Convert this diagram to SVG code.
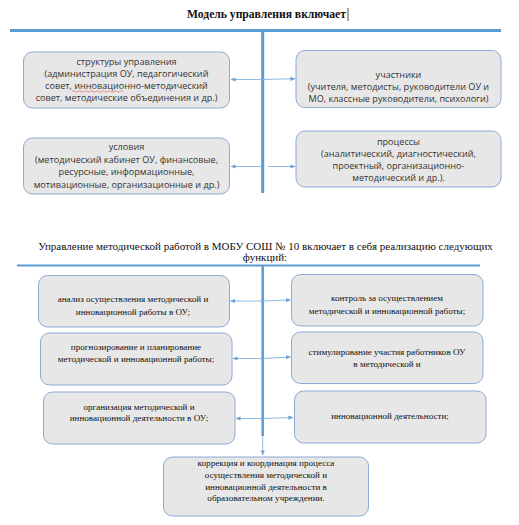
<svg xmlns="http://www.w3.org/2000/svg" width="519" height="525" viewBox="0 0 519 525">
<defs>
<marker id="ah" viewBox="0 0 6 6" refX="5.5" refY="3" markerWidth="5" markerHeight="5" orient="auto" markerUnits="userSpaceOnUse">
<path d="M0,0.5 L6,3 L0,5.5 Z" fill="#6fa3d8"/>
</marker>
</defs>
<style>
.box{fill:#e7e7e7;stroke:#8eaad6;stroke-width:1}
.main{stroke:#5b9bd5;fill:none}
.conn{stroke:#8dbbe6;stroke-width:1;fill:none;marker-end:url(#ah)}
.s{font-family:"Open Sans","Liberation Sans",sans-serif;font-size:9.1px;fill:#333;text-anchor:middle}
.t{font-family:"Liberation Serif","Times New Roman",serif;font-size:9.1px;fill:#111;text-anchor:middle}
.h{font-family:"Liberation Serif","Times New Roman",serif;fill:#111;text-anchor:middle}
</style>
<rect width="519" height="525" fill="#ffffff"/>
<text class="h" x="266.5" y="18" font-size="11.6" font-weight="bold">Модель управления включает</text>
<line x1="348" y1="8" x2="348" y2="21" stroke="#222" stroke-width="0.8"/>
<text class="h" x="265.5" y="250" font-size="11">Управление методической работой в МОБУ СОШ № 10 включает в себя реализацию следующих</text>
<text class="h" x="265" y="261" font-size="11">функций:</text>
<g id="connectors">
<line class="main" x1="10" y1="30.5" x2="501" y2="30.5" stroke-width="3"/>
<line class="main" x1="262.7" y1="30" x2="262.7" y2="193" stroke-width="3"/>
<line class="main" x1="17" y1="265.5" x2="480" y2="265.5" stroke-width="2"/>
<line class="main" x1="262.7" y1="265" x2="262.7" y2="436" stroke-width="2.5"/>
<line class="conn" x1="262" y1="79.5" x2="231" y2="79.5"/>
<line class="conn" x1="263" y1="79.5" x2="295" y2="78.7"/>
<line class="conn" x1="261" y1="166.5" x2="231" y2="166.5"/>
<line class="conn" x1="268" y1="166.5" x2="295" y2="166.5"/>
<line class="conn" x1="262" y1="301" x2="230.5" y2="301"/>
<line class="conn" x1="263" y1="301" x2="290.5" y2="300"/>
<line class="conn" x1="262" y1="358.5" x2="233" y2="358.5"/>
<line class="conn" x1="263" y1="358.5" x2="290.5" y2="357"/>
<line class="conn" x1="262" y1="418.5" x2="236" y2="418.5"/>
<line class="conn" x1="263" y1="418.5" x2="293" y2="417.5"/>
<line class="conn" x1="262.7" y1="436" x2="262.7" y2="455"/>
</g>
<g id="n1">
<rect class="box" x="23.5" y="52" width="206" height="56" rx="9"/>
<text class="s" x="126.5" y="65">структуры управления</text>
<text class="s" x="126.5" y="77">(администрация ОУ, педагогический</text>
<text class="s" x="126.5" y="89">совет, инновационно-методический</text>
<text class="s" x="126.5" y="101">совет, методические объединения и др.)</text>
<path d="M72,91.5 q1.5,-1.5 3,0 t3,0 t3,0 t3,0 t3,0 t3,0 t3,0 t3,0 t3,0 t3,0 t3,0 t3,0 t3,0 t3,0 t3,0 t3,0 t3,0" fill="none" stroke="#e05050" stroke-width="0.6"/>
</g>
<g id="n2">
<rect class="box" x="296" y="50.5" width="205" height="57" rx="9"/>
<text class="s" x="398.5" y="78">участники</text>
<text class="s" x="398.5" y="90">(учителя, методисты, руководители ОУ и</text>
<text class="s" x="398.5" y="102">МО, классные руководители, психологи)</text>
</g>
<g id="n3">
<rect class="box" x="23.5" y="138" width="206" height="56" rx="9"/>
<text class="s" x="126.5" y="150">условия</text>
<text class="s" x="126.5" y="162.5">(методический кабинет ОУ, финансовые,</text>
<text class="s" x="126.5" y="175">ресурсные, информационные,</text>
<text class="s" x="126.5" y="187.5">мотивационные, организационные и др.)</text>
</g>
<g id="n4">
<rect class="box" x="296" y="131" width="205" height="56" rx="9"/>
<text class="s" x="398.5" y="145">процессы</text>
<text class="s" x="398.5" y="157">(аналитический, диагностический,</text>
<text class="s" x="398.5" y="169">проектный, организационно-</text>
<text class="s" x="398.5" y="181">методический и др.).</text>
</g>
<g id="f1">
<rect class="box" x="38.5" y="275.5" width="191" height="51.5" rx="9"/>
<text class="t" x="133" y="302">анализ осуществления методической и</text>
<text class="t" x="133" y="315">инновационной работы в ОУ;</text>
</g>
<g id="f2">
<rect class="box" x="291.5" y="274.5" width="191.5" height="51.5" rx="9"/>
<text class="t" x="387" y="301">контроль за осуществлением</text>
<text class="t" x="387" y="314">методической и инновационной работы;</text>
</g>
<g id="f3">
<rect class="box" x="40.5" y="333" width="191.5" height="52" rx="9"/>
<text class="t" x="136" y="350">прогнозирование и планирование</text>
<text class="t" x="136" y="362">методической и инновационной работы;</text>
</g>
<g id="f4">
<rect class="box" x="291.5" y="332" width="191.5" height="51.5" rx="9"/>
<text class="t" x="387" y="355">стимулирование участия работников ОУ</text>
<text class="t" x="387" y="367">в методической и</text>
</g>
<g id="f5">
<rect class="box" x="43.5" y="392" width="191.5" height="52" rx="9"/>
<text class="t" x="139" y="410">организация методической и</text>
<text class="t" x="139" y="421">инновационной деятельности в ОУ;</text>
</g>
<g id="f6">
<rect class="box" x="294.5" y="391" width="191.5" height="52" rx="9"/>
<text class="t" x="390" y="419">инновационной деятельности;</text>
</g>
<g id="f7">
<rect class="box" x="163.5" y="457" width="205" height="59" rx="9"/>
<text class="t" x="266" y="466">коррекция и координация процесса</text>
<text class="t" x="266" y="478">осуществления методической и</text>
<text class="t" x="266" y="490">инновационной деятельности в</text>
<text class="t" x="266" y="501">образовательном учреждении.</text>
</g>
</svg>
